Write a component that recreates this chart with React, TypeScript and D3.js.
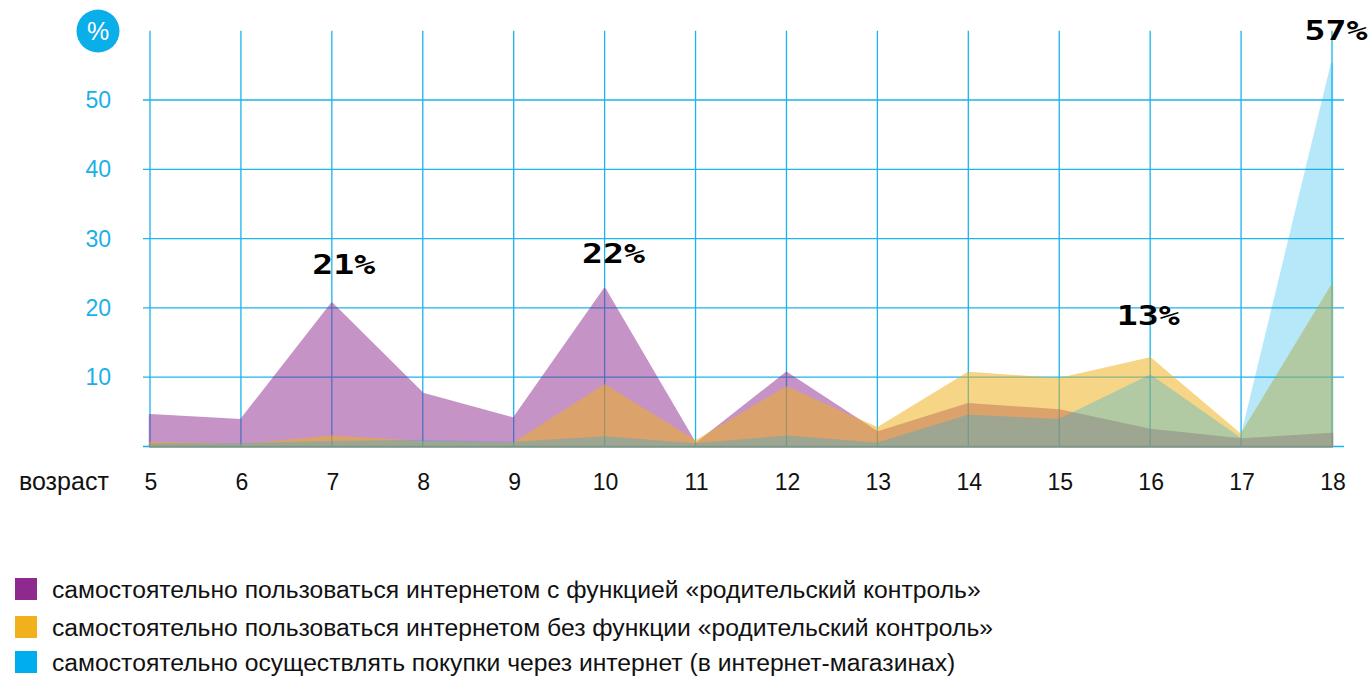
import React, { useEffect, useRef } from 'react';
import * as d3 from 'd3';

// возраст (ось X)
const ages = [5, 6, 7, 8, 9, 10, 11, 12, 13, 14, 15, 16, 17, 18];
// значения в %
const withParental = [4.5, 3.8, 20.6, 7.6, 4.0, 22.7, 0.3, 10.6, 2.0, 6.1, 5.2, 2.4, 1.0, 1.8];
const withoutParental = [0.5, 0.2, 1.4, 0.6, 0.4, 8.8, 0.7, 8.5, 2.6, 10.6, 9.7, 12.7, 1.6, 23.2];
const shopping = [0.3, 0.3, 0.6, 0.8, 0.5, 1.3, 0.3, 1.4, 0.4, 4.4, 3.8, 10.2, 1.0, 55.2];

const yTicks = [10, 20, 30, 40, 50];
const seriesNames = [
  'самостоятельно пользоваться интернетом с функцией «родительский контроль»',
  'самостоятельно пользоваться интернетом без функции «родительский контроль»',
  'самостоятельно осуществлять покупки через интернет (в интернет-магазинах)',
];
const seriesColors = ['#8e2a8e', '#f0b11c', '#00aeef'];
const seriesOpacity = [0.5, 0.53, 0.28];

// подписи пиков
const peakLabels = [
  { age: 7, value: 21, text: '21%', dx: 12, dy: -27 },
  { age: 10, value: 22, text: '22%', dx: 9, dy: -31 },
  { age: 16, value: 13, text: '13%', dx: -2, dy: -31 },
  { age: 18, value: 57, text: '57%', dx: 4, dy: -11 },
];

export default function App() {
  const ref = useRef<SVGSVGElement | null>(null);

  useEffect(() => {
    const svg = d3.select(ref.current);
    svg.selectAll('*').remove();

    const x = d3.scaleLinear().domain([5, 18]).range([150, 1332]);
    const y = d3.scaleLinear().domain([0, 50]).range([446.5, 100]);
    const grid = '#1ab4ee';
    const font = '"Liberation Sans", Arial, sans-serif';

    // сетка
    const g = svg.append('g');
    g.selectAll('.hgrid')
      .data([0, ...yTicks])
      .join('line')
      .attr('x1', 143).attr('x2', 1344)
      .attr('y1', d => y(d)).attr('y2', d => y(d))
      .attr('stroke', grid).attr('stroke-width', 1.3);
    g.selectAll('.vgrid')
      .data(ages)
      .join('line')
      .attr('x1', d => x(d)).attr('x2', d => x(d))
      .attr('y1', y(60)).attr('y2', y(0))
      .attr('stroke', grid).attr('stroke-width', 1.3);

    // области
    const all = [withParental, withoutParental, shopping];
    all.forEach((vals, i) => {
      const area = d3.area<number>()
        .x((_, j) => x(ages[j]))
        .y0(y(0))
        .y1(d => y(d))
        .curve(d3.curveLinear);
      svg.append('path')
        .datum(vals)
        .attr('d', area)
        .attr('fill', seriesColors[i])
        .attr('stroke', seriesColors[i])
        .attr('stroke-width', 2.5)
        .attr('stroke-linejoin', 'round')
        .attr('opacity', seriesOpacity[i]);
    });

    // ось Y
    svg.append('g')
      .selectAll('text')
      .data(yTicks)
      .join('text')
      .attr('x', 111)
      .attr('y', d => y(d))
      .attr('dy', '0.35em')
      .attr('text-anchor', 'end')
      .attr('fill', '#1ab0e8')
      .style('font-family', font)
      .style('font-size', '23px')
      .text(d => d);

    // значок %
    svg.append('circle').attr('cx', 98).attr('cy', 31).attr('r', 21.5).attr('fill', '#0aaee9');
    svg.append('text')
      .attr('x', 98).attr('y', 31).attr('dy', '0.36em')
      .attr('text-anchor', 'middle').attr('fill', '#fff')
      .style('font-family', font)
      .style('font-size', '25px')
      .text('%');

    // ось X
    const xg = svg.append('g')
      .style('font-family', font)
      .style('font-size', '23px');
    xg.selectAll('text')
      .data(ages)
      .join('text')
      .attr('x', d => x(d) + 1)
      .attr('y', 490)
      .attr('text-anchor', 'middle')
      .attr('fill', '#111')
      .text(d => d);
    xg.append('text').attr('x', 19).attr('y', 490).attr('fill', '#111')
      .style('font-size', '25px').text('возраст');

    // подписи пиков
    svg.append('g')
      .selectAll('text')
      .data(peakLabels)
      .join('text')
      .attr('x', d => x(d.age) + d.dx)
      .attr('y', d => y(d.value) + d.dy)
      .attr('text-anchor', 'middle')
      .attr('textLength', 63)
      .attr('lengthAdjust', 'spacingAndGlyphs')
      .attr('fill', '#000')
      .style('font-family', '"DejaVu Sans Mono", monospace')
      .style('font-weight', 'bold')
      .style('font-size', '26px')
      .text(d => d.text);

    // легенда
    const lg = svg.append('g')
      .style('font-family', font)
      .style('font-size', '24.7px');
    const legendY = [598, 636, 671];
    seriesNames.forEach((name, i) => {
      lg.append('rect')
        .attr('x', 15).attr('y', legendY[i] - 20)
        .attr('width', 22).attr('height', 22)
        .attr('fill', seriesColors[i]);
      lg.append('text')
        .attr('x', 52).attr('y', legendY[i])
        .attr('fill', '#111')
        .text(name);
    });
  }, []);

  return (
    <div style={{ position: 'absolute', left: 0, top: 0 }}>
      <svg ref={ref} width={1371} height={676} style={{ display: 'block', background: '#fff' }} />
    </div>
  );
}
